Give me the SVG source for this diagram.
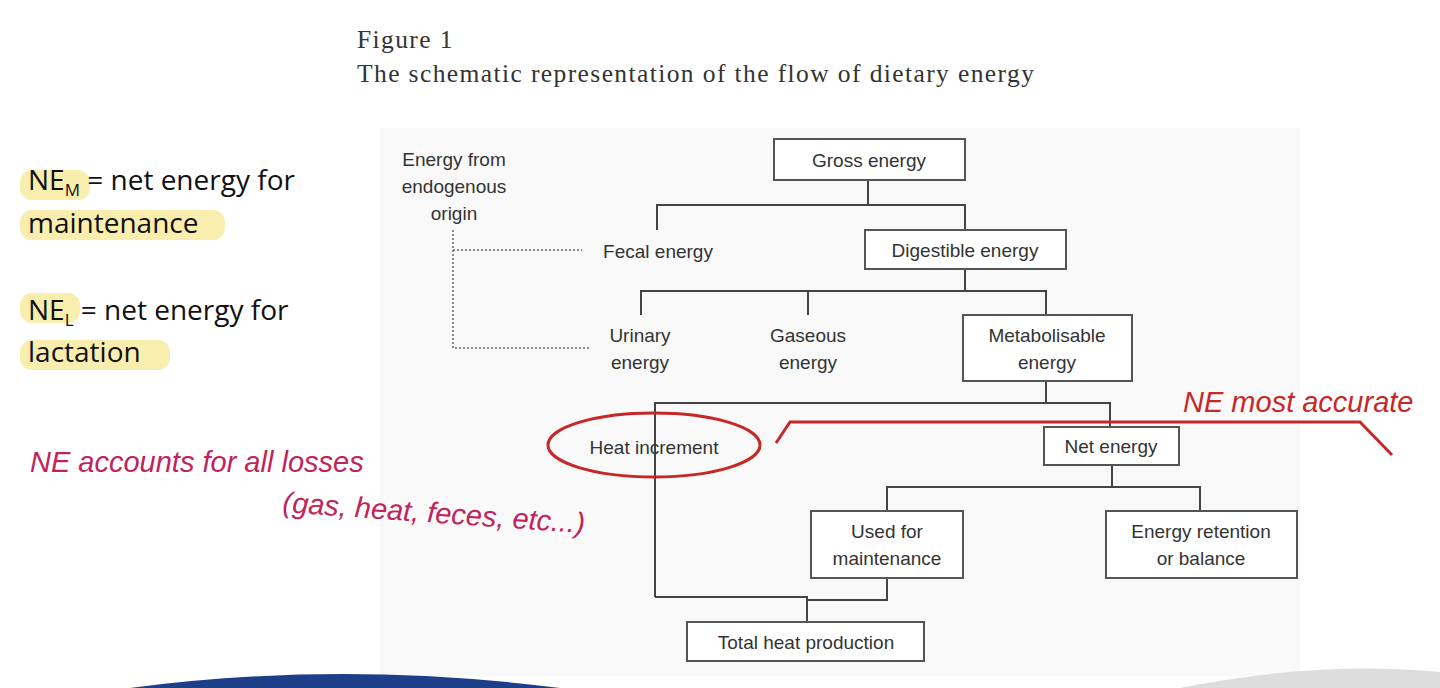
<svg xmlns="http://www.w3.org/2000/svg" width="1440" height="688" viewBox="0 0 1440 688">
<style>
.b{fill:#fff;stroke:#555;stroke-width:2}
.t{font-family:"Liberation Sans",Arial,sans-serif;font-size:19px;fill:#333;text-anchor:middle}
.c{fill:none;stroke:#444;stroke-width:2}
.d{fill:none;stroke:#666;stroke-width:1.5;stroke-dasharray:2 2}
.s{font-family:"Liberation Serif",serif;font-size:25.5px;fill:#333;letter-spacing:1.4px}
.l{font-family:"Open Sans",sans-serif;font-size:28px;fill:#111}
.h{font-family:"Liberation Sans",sans-serif;font-style:italic;fill:#c0245a;font-size:29px}
.hl{fill:#f7e27a;opacity:.6}
</style>
<rect width="1440" height="688" fill="#fff"/>
<rect x="380" y="128" width="920" height="548" fill="#f9f9f9"/>
<path d="M130 688 Q340 660 560 688Z" fill="#1d3f8a"/>
<path d="M1180 688 Q1320 660 1440 672 L1440 688Z" fill="#ddd"/>
<text class="s" x="357" y="48">Figure 1</text>
<text class="s" x="357" y="82">The schematic representation of the flow of dietary energy</text>
<rect class="hl" x="20" y="170" width="70" height="30" rx="12"/>
<rect class="hl" x="20" y="210" width="205" height="30" rx="12"/>
<rect class="hl" x="20" y="293" width="60" height="30" rx="12"/>
<rect class="hl" x="20" y="340" width="150" height="30" rx="12"/>
<text class="l" x="28" y="190">NE<tspan font-size="17" dy="6">M</tspan><tspan dy="-6"> = net energy for</tspan></text>
<text class="l" x="28" y="233">maintenance</text>
<text class="l" x="28" y="320">NE<tspan font-size="17" dy="6">L</tspan><tspan dy="-6"> = net energy for</tspan></text>
<text class="l" x="28" y="362">lactation</text>
<text class="h" x="30" y="472">NE accounts for all losses</text>
<text class="h" x="282" y="512" transform="rotate(4 282 512)">(gas, heat, feces, etc...)</text>
<text class="h" x="1183" y="412" font-size="32" style="fill:#c62828">NE most accurate</text>
<g id="connectors">
<path class="c" d="M868 180V205M657 230V205H965V230"/>
<path class="c" d="M965 269V291M641 315V291H1046V315M808 291V315"/>
<path class="c" d="M1046 381V403M655 597V403H1110V427"/>
<path class="c" d="M1112 465V487M887 511V487H1200V511"/>
<path class="c" d="M655 597H807V622M887 578V600H807"/>
<path class="d" d="M453 230V348H590M453 250H582"/>
</g>
<g id="gross"><rect class="b" x="774" y="139" width="191" height="41"/><text class="t" x="869" y="167">Gross energy</text></g>
<g id="endo"><text class="t" x="454" y="166">Energy from</text><text class="t" x="454" y="193">endogenous</text><text class="t" x="454" y="220">origin</text></g>
<g id="fecal"><text class="t" x="658" y="258">Fecal energy</text></g>
<g id="de"><rect class="b" x="865" y="230" width="201" height="39"/><text class="t" x="965" y="257">Digestible energy</text></g>
<g id="urinary"><text class="t" x="640" y="342">Urinary</text><text class="t" x="640" y="369">energy</text></g>
<g id="gaseous"><text class="t" x="808" y="342">Gaseous</text><text class="t" x="808" y="369">energy</text></g>
<g id="me"><rect class="b" x="963" y="315" width="169" height="66"/><text class="t" x="1047" y="342">Metabolisable</text><text class="t" x="1047" y="369">energy</text></g>
<g id="hi"><text class="t" x="654" y="454">Heat increment</text></g>
<g id="ne"><rect class="b" x="1044" y="427" width="135" height="38"/><text class="t" x="1111" y="453">Net energy</text></g>
<g id="used"><rect class="b" x="811" y="511" width="152" height="67"/><text class="t" x="887" y="538">Used for</text><text class="t" x="887" y="565">maintenance</text></g>
<g id="ret"><rect class="b" x="1106" y="511" width="191" height="67"/><text class="t" x="1201" y="538">Energy retention</text><text class="t" x="1201" y="565">or balance</text></g>
<g id="thp"><rect class="b" x="687" y="622" width="237" height="39"/><text class="t" x="806" y="649">Total heat production</text></g>
<ellipse cx="654" cy="445" rx="106" ry="32" fill="none" stroke="#c62828" stroke-width="3"/>
<path d="M776 443L790 422H1360L1392 455" fill="none" stroke="#c62828" stroke-width="3"/>
</svg>
